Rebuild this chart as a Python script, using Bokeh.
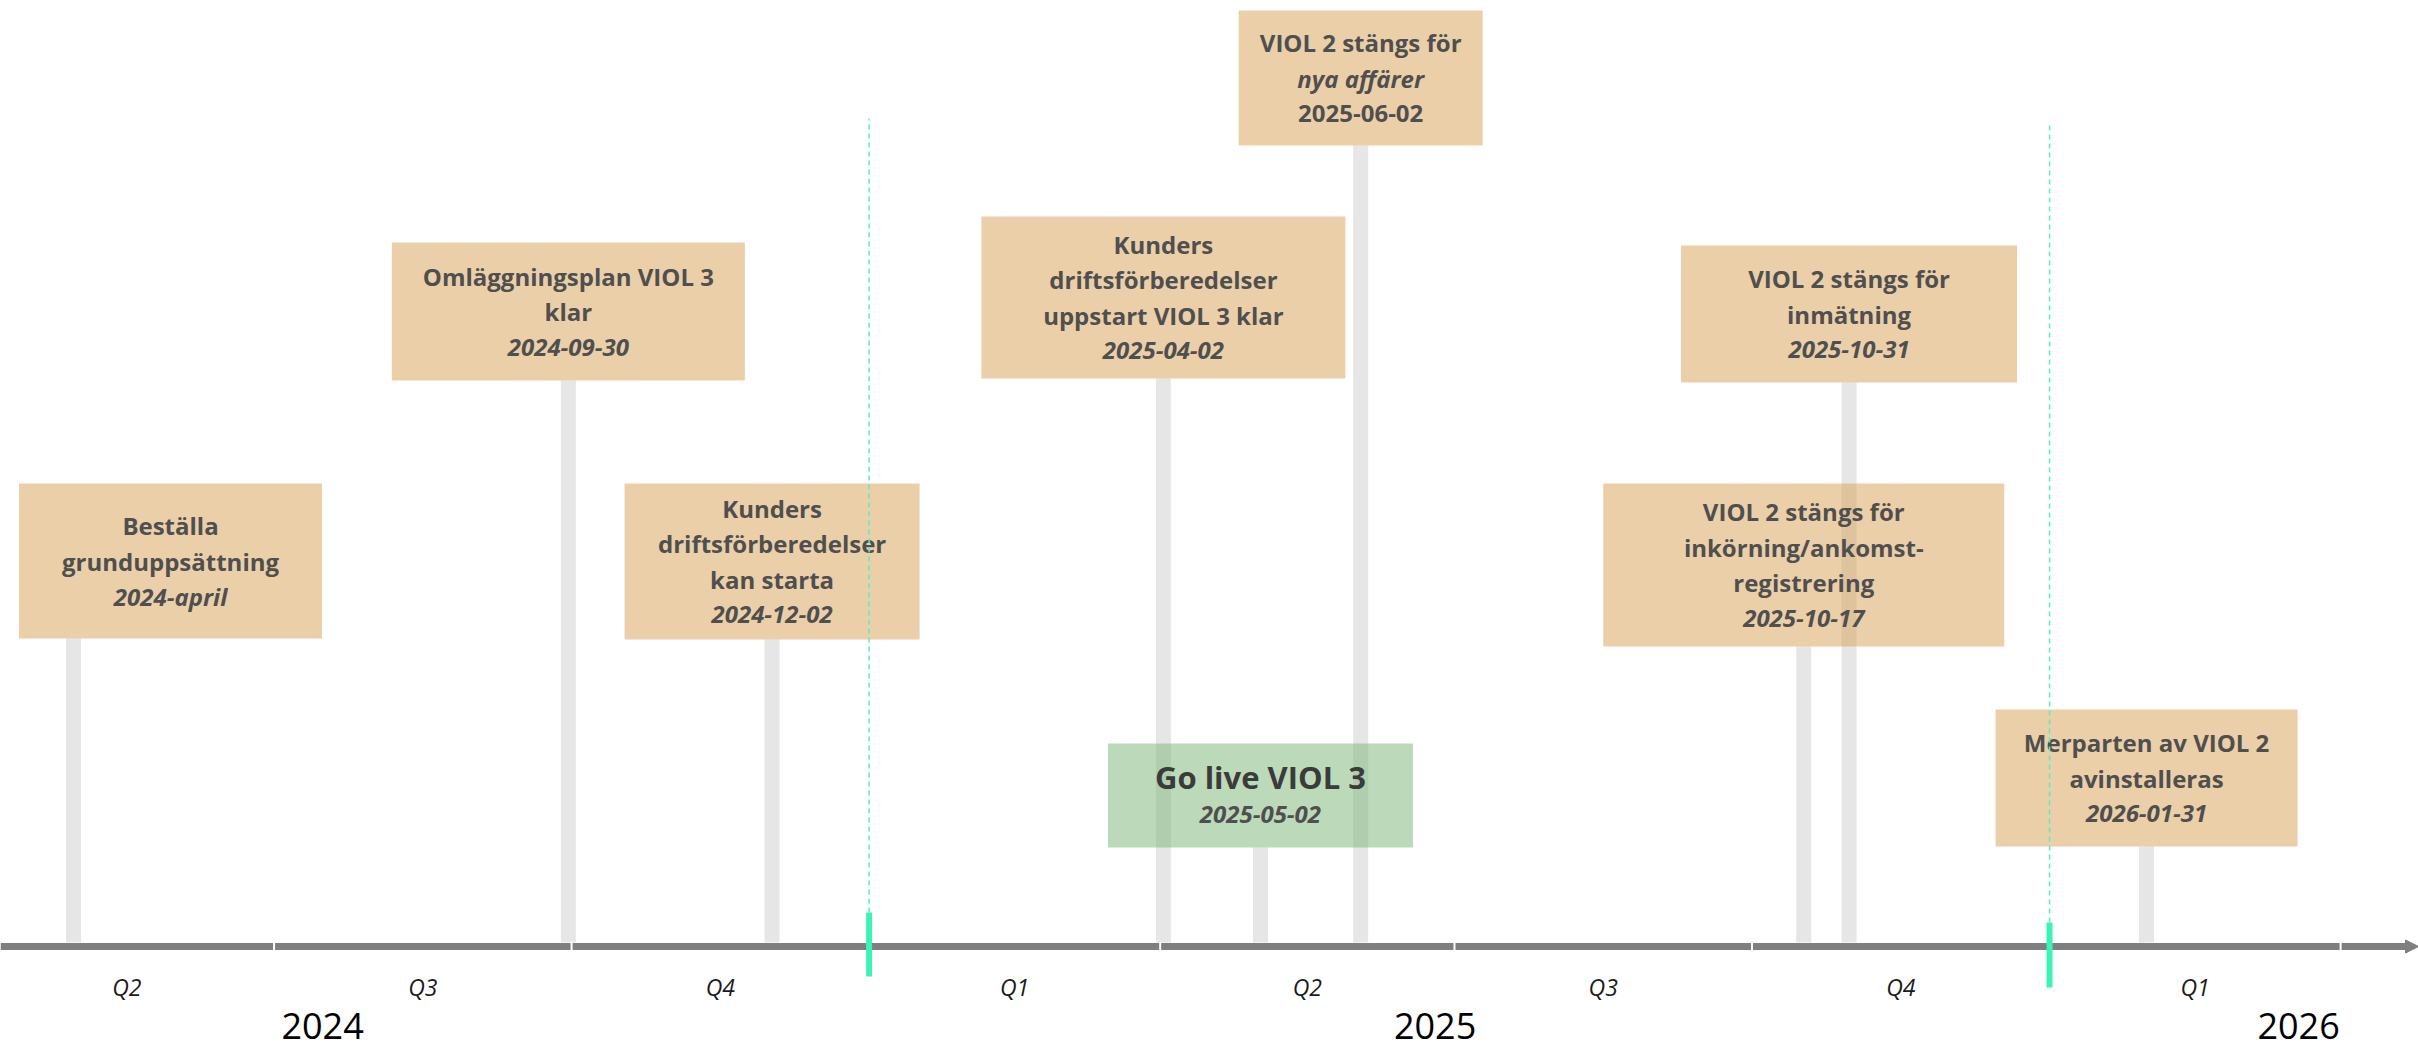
import pandas as pd
from bokeh.plotting import figure
from bokeh.models import ColumnDataSource, Range1d, Arrow, NormalHead
from bokeh.core.properties import value
from bokeh.embed import file_html
from bokeh.resources import INLINE

# ---------------- data ----------------
event_dates = ["2024-04-30", "2024-09-30", "2024-12-02", "2025-04-02", "2025-05-02",
               "2025-06-02", "2025-10-17", "2025-10-31", "2026-01-31"]
event_titles = [
    ["Beställa", "grunduppsättning"],
    ["Omläggningsplan VIOL 3", "klar"],
    ["Kunders", "driftsförberedelser", "kan starta"],
    ["Kunders", "driftsförberedelser", "uppstart VIOL 3 klar"],
    ["Go live VIOL 3"],
    ["VIOL 2 stängs för", "nya affärer"],
    ["VIOL 2 stängs för", "inkörning/ankomst-", "registrering"],
    ["VIOL 2 stängs för", "inmätning"],
    ["Merparten av VIOL 2", "avinstalleras"],
]
event_date_labels = ["2024-april", "2024-09-30", "2024-12-02", "2025-04-02", "2025-05-02",
                     "2025-06-02", "2025-10-17", "2025-10-31", "2026-01-31"]
event_kind = ["milestone", "milestone", "milestone", "milestone", "golive",
              "milestone", "milestone", "milestone", "milestone"]

year_marks = ["2025-01-01", "2026-01-01"]
quarter_starts = ["2024-04-01", "2024-07-01", "2024-10-01", "2025-01-01", "2025-04-01",
                  "2025-07-01", "2025-10-01", "2026-01-01", "2026-04-01"]
quarter_labels = ["Q2", "Q3", "Q4", "Q1", "Q2", "Q3", "Q4", "Q1"]
year_labels = ["2024", "2025", "2026"]
year_label_dates = ["2024-07-16", "2025-06-25", "2026-03-19"]

# ---------------- layout / style ----------------
W, H = 2418, 1052
X_START, X_END = pd.Timestamp("2024-04-07 10:00"), pd.Timestamp("2026-04-25 02:00")
box_center_y = [384.5, 634, 384, 648, 150, 867.5, 380.5, 631.5, 167.5]
box_height = [155, 138, 156, 162, 104, 135, 163, 137, 137]
box_width = [303, 353, 295, 364, 305, 244, 401, 336, 302]
box_shift_px = [97, 0, 0, 0, 0, 0, 0, 0, 0]
line_styles = {5: ["bold", "bold italic", "bold"]}
TAN, GREEN = "#D79F51", "#79B573"
TEXT = "#4F4F4F"
FONT = "Open Sans"


def ms(s):
    return pd.Timestamp(s).value / 1e6


x0, x1 = ms(X_START), ms(X_END)
ms_per_px = (x1 - x0) / W

p = figure(width=W, height=H, x_range=Range1d(x0, x1), y_range=Range1d(-107, 945),
           toolbar_location=None, output_backend="svg", min_border=0,
           x_axis_location=None, y_axis_location=None)
p.grid.visible = False
p.outline_line_color = None
p.background_fill_color = "white"

# stems
ex = [ms(d) for d in event_dates]
stem_top = [c - h / 2 for c, h in zip(box_center_y, box_height)]
p.segment(x0=ex, y0=[3] * len(ex), x1=ex, y1=stem_top, line_color="#E7E6E6",
          line_width=15, line_cap="butt")

# time axis
p.segment(x0=[x0], y0=[-1], x1=[x1 - 10 * ms_per_px], y1=[-1], line_color="#7F7F7F", line_width=7)
p.add_layout(Arrow(end=NormalHead(size=13, fill_color="#7F7F7F", line_color="#7F7F7F"),
                   x_start=x1 - 16 * ms_per_px, y_start=-1, x_end=x1, y_end=-1,
                   line_color="#7F7F7F", line_width=7))
qs = [ms(q) for q in quarter_starts]
p.segment(x0=qs, y0=[-5] * len(qs), x1=qs, y1=[4] * len(qs), line_color="white", line_width=2)

# quarter labels at quarter midpoints
qmid = [(qs[i] + qs[i + 1]) / 2 for i in range(len(quarter_labels))]
p.text(x=qmid, y=[-41] * len(qmid), text=quarter_labels, text_font=value(FONT),
       text_font_style="italic", text_font_size="23px", text_color="#1A1A1A",
       text_align="center", text_baseline="middle")
# year labels
p.text(x=[ms(d) for d in year_label_dates], y=[-80] * 3, text=year_labels, text_font=value(FONT),
       text_font_size="36px", text_color="#000000", text_align="center",
       text_baseline="middle")

# boxes
bx = [e + s * ms_per_px for e, s in zip(ex, box_shift_px)]
colors = [GREEN if k == "golive" else TAN for k in event_kind]
p.rect(x=bx, y=box_center_y, width=box_width, width_units="screen", height=box_height,
       fill_color=colors, fill_alpha=0.5, line_color=None)

# box texts
tx, ty, tt, tstyle, tsize, tcol = [], [], [], [], [], []
for i, (title, dlabel) in enumerate(zip(event_titles, event_date_labels)):
    lines = title + [dlabel]
    if event_kind[i] == "golive":
        styles = ["bold", "bold italic"]
        sizes = ["31px", "24px"]
        cols = ["#3B3B3B", TEXT]
        spacing = 38
    else:
        styles = line_styles.get(i, ["bold"] * len(title) + ["bold italic"])
        sizes = ["24px"] * len(lines)
        cols = [TEXT] * len(lines)
        spacing = 35.5
    n = len(lines)
    for j, ln in enumerate(lines):
        tx.append(bx[i])
        ty.append(box_center_y[i] + (n - 1) / 2 * spacing - j * spacing)
        tt.append(ln)
        tstyle.append(styles[j])
        tsize.append(sizes[j])
        tcol.append(cols[j])
src = ColumnDataSource(dict(x=tx, y=ty, text=tt, style=tstyle, size=tsize, col=tcol))
p.text(x="x", y="y", text="text", source=src, text_font=value(FONT), text_font_style="style",
       text_font_size="size", text_color="col", text_align="center", text_baseline="middle")

# year boundary markers
ym = [ms(d) for d in year_marks]
p.segment(x0=ym, y0=[33, 23], x1=ym, y1=[827, 822], line_color="#4FF0C8", line_width=1.5,
          line_dash="5 4")
p.segment(x0=ym, y0=[-31, -42], x1=ym, y1=[33, 23], line_color="#3DF2B6", line_width=6,
          line_cap="butt")

open("out.html", "w").write(file_html(p, INLINE))
